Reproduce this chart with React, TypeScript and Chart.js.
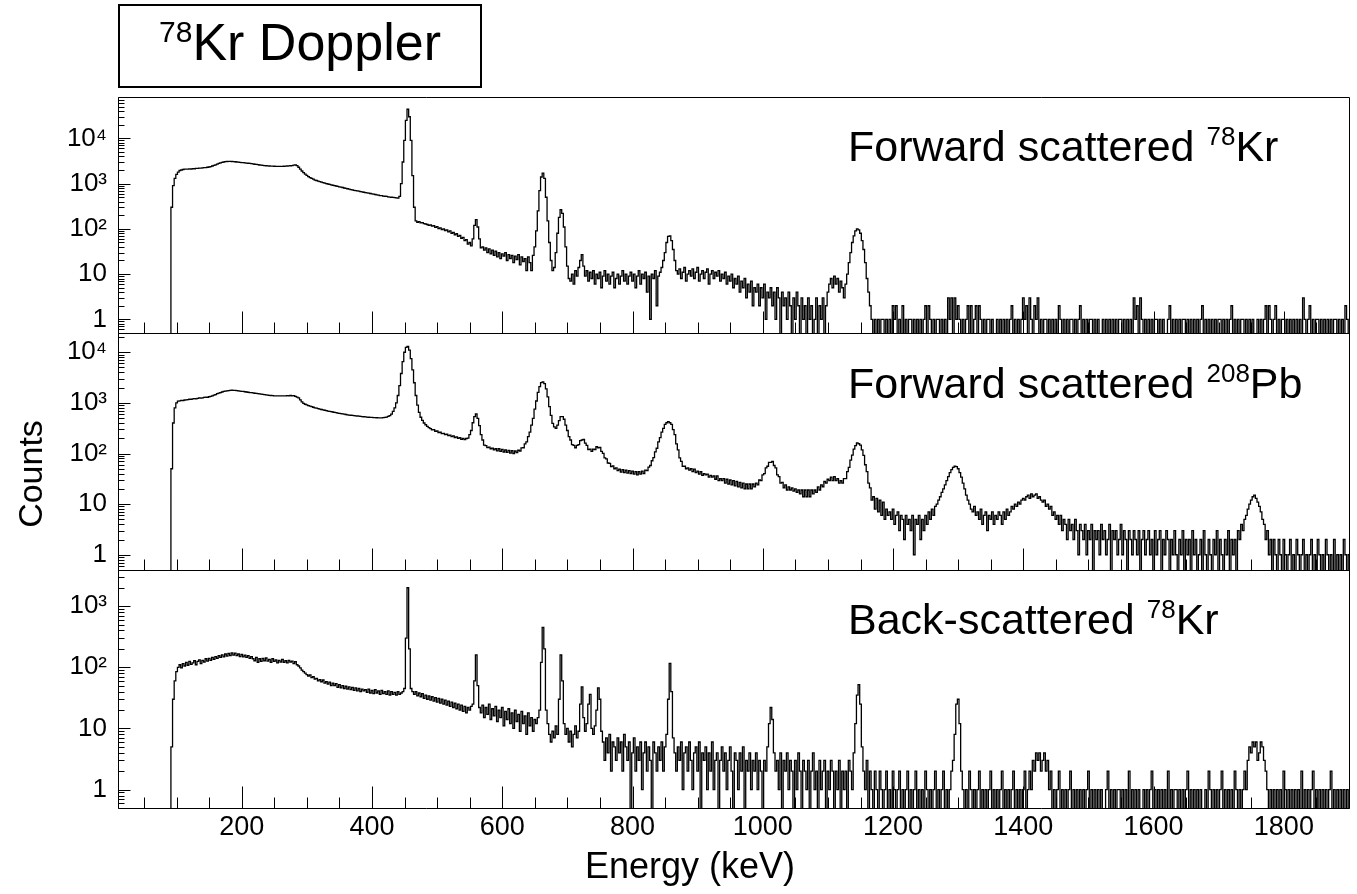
import React, { useEffect, useRef } from 'react';
import { Chart, registerables } from 'chart.js';

Chart.register(...registerables);

const FONT = "'Liberation Sans', Arial, Helvetica, sans-serif";

// Histogram binning (keV): bin centres start at BIN_START, spaced BIN_WIDTH
const BIN_START = 90;
const BIN_WIDTH = 2.5;
const X_MIN = 10;
const X_MAX = 1900;
const X_TICKS = [200, 400, 600, 800, 1000, 1200, 1400, 1600, 1800];
const X_MINOR_STEP = 50;
const Y_MIN = 0.5;
const Y_MAX = [82000, 24000, 3900];
const Y_TICKS = [1, 10, 100, 1000, 10000];
const Y_TICK_LABELS = ['1', '10', '10²', '10³', '10⁴'];
const PANEL_LABELS = [
  { text: 'Forward scattered ', sup: '78', tail: 'Kr' },
  { text: 'Forward scattered ', sup: '208', tail: 'Pb' },
  { text: 'Back-scattered ', sup: '78', tail: 'Kr' },
];

// Counts per bin; one row = 100 keV (90..187.5, 190..287.5, ...), last row 1890..1900
const FWD_KR = [
  0, 300, 900, 1300, 1600, 1800, 1950, 2000, 2050, 2080, 2100, 2080, 2120, 2100, 2150, 2130, 2160, 2180, 2200, 2190, 2220, 2250, 2260, 2300, 2330, 2380, 2450, 2520, 2600, 2700, 2800, 2880, 2950, 3000, 3050, 3080, 3100, 3100, 3080, 3060,
  3040, 3000, 2980, 2950, 2920, 2900, 2880, 2850, 2820, 2800, 2760, 2720, 2680, 2650, 2620, 2580, 2550, 2520, 2500, 2480, 2460, 2450, 2440, 2430, 2420, 2410, 2400, 2400, 2410, 2400, 2420, 2430, 2450, 2460, 2480, 2500, 2550, 2580, 2500, 2300,
  2100, 1900, 1750, 1620, 1520, 1430, 1360, 1300, 1250, 1200, 1170, 1140, 1110, 1080, 1050, 1020, 1000, 980, 960, 940, 920, 900, 885, 870, 850, 835, 820, 800, 785, 770, 755, 740, 725, 710, 700, 690, 680, 665, 655, 645,
  635, 625, 615, 605, 595, 585, 575, 565, 555, 545, 540, 530, 525, 520, 510, 505, 500, 495, 490, 485, 480, 520, 1000, 3000, 9000, 25000, 44000, 30000, 9000, 1500, 300, 150, 140, 145, 135, 138, 130, 128, 125, 120,
  122, 115, 118, 108, 112, 102, 105, 96, 100, 92, 95, 86, 90, 80, 84, 74, 78, 68, 72, 62, 65, 55, 58, 46, 50, 42, 60, 120, 160, 110, 60, 38, 40, 34, 38, 30, 36, 28, 34, 26,
  32, 24, 30, 22, 28, 25, 30, 20, 27, 22, 26, 18, 25, 21, 27, 16, 24, 19, 22, 12, 24, 18, 12, 26, 40, 90, 250, 700, 1400, 1700, 1300, 500, 150, 50, 20, 12, 14, 30, 80, 180,
  265, 220, 110, 40, 15, 8, 7, 10, 6, 12, 9, 14, 20, 27, 15, 9, 12, 7, 11, 8, 12, 6, 10, 8, 11, 5, 9, 12, 7, 10, 6, 9, 11, 5, 8, 10, 6, 9, 12, 7,
  10, 6, 9, 11, 7, 10, 5, 9, 12, 6, 10, 8, 11, 4, 9, 1, 10, 8, 12, 2, 9, 11, 14, 20, 30, 50, 68, 70, 55, 35, 20, 12, 10, 13, 8, 11, 14, 7, 10, 12,
  9, 13, 8, 11, 14, 7, 10, 12, 8, 11, 13, 6, 10, 12, 8, 11, 9, 12, 7, 10, 8, 11, 6, 9, 7, 10, 5, 8, 6, 9, 4, 7, 5, 8, 3, 6, 4, 7, 2, 5,
  4, 6, 2, 5, 3, 6, 1, 4, 3, 5, 2, 4, 1, 5, 3, 0, 4, 2, 3, 1, 4, 2, 0, 3, 1, 4, 2, 0, 3, 1, 2, 0, 3, 1, 2, 0, 1, 3, 0, 2,
  1, 3, 0, 2, 4, 6, 8, 5, 9, 6, 8, 4, 7, 5, 3, 6, 10, 18, 30, 50, 70, 90, 100, 95, 80, 55, 35, 18, 8, 4, 2, 1, 0, 1, 0, 1, 0, 1, 1, 0,
  1, 0, 1, 0, 2, 1, 2, 0, 1, 0, 2, 0, 1, 0, 1, 1, 0, 1, 0, 1, 0, 1, 0, 1, 2, 0, 2, 1, 0, 1, 0, 1, 1, 0, 1, 0, 1, 0, 3, 1,
  3, 0, 3, 1, 2, 1, 0, 1, 0, 1, 2, 0, 2, 0, 1, 2, 0, 2, 1, 0, 1, 0, 1, 1, 0, 1, 0, 0, 1, 0, 1, 0, 1, 0, 1, 0, 1, 2, 0, 1,
  0, 1, 0, 1, 3, 1, 2, 0, 3, 1, 0, 2, 1, 3, 0, 1, 0, 1, 1, 0, 1, 0, 1, 0, 1, 0, 2, 1, 0, 1, 0, 1, 0, 1, 1, 0, 1, 0, 1, 2,
  0, 1, 0, 1, 0, 1, 1, 0, 1, 0, 1, 0, 0, 1, 0, 1, 0, 1, 0, 1, 0, 1, 0, 1, 1, 0, 1, 0, 1, 0, 1, 0, 3, 1, 2, 0, 3, 1, 0, 1,
  0, 1, 0, 1, 0, 1, 1, 0, 1, 0, 1, 0, 0, 1, 2, 0, 1, 0, 1, 0, 1, 0, 1, 1, 0, 1, 0, 1, 0, 1, 0, 1, 0, 1, 2, 0, 1, 0, 1, 0,
  1, 0, 1, 0, 1, 1, 0, 1, 0, 1, 0, 1, 2, 0, 1, 0, 1, 0, 1, 1, 0, 1, 0, 1, 0, 1, 0, 0, 1, 0, 1, 0, 1, 2, 0, 2, 1, 0, 1, 2,
  0, 1, 0, 1, 1, 0, 1, 0, 1, 0, 1, 0, 1, 0, 1, 0, 3, 1, 0, 1, 2, 0, 1, 0, 1, 1, 0, 1, 0, 1, 0, 1, 0, 1, 0, 1, 1, 0, 1, 0,
  1, 0, 2, 1, 0,
];

const FWD_PB = [
  0, 50, 400, 800, 1000, 1080, 1100, 1120, 1110, 1140, 1150, 1160, 1180, 1170, 1200, 1210, 1200, 1230, 1250, 1240, 1260, 1280, 1300, 1290, 1320, 1340, 1380, 1420, 1460, 1520, 1560, 1600, 1640, 1680, 1700, 1720, 1750, 1770, 1780, 1770,
  1760, 1740, 1720, 1700, 1690, 1680, 1660, 1640, 1620, 1600, 1590, 1570, 1550, 1540, 1520, 1500, 1490, 1470, 1450, 1440, 1420, 1410, 1400, 1390, 1380, 1380, 1370, 1380, 1370, 1380, 1370, 1380, 1390, 1380, 1400, 1380, 1390, 1350, 1300, 1250,
  1150, 1050, 980, 940, 910, 880, 860, 840, 820, 800, 785, 770, 755, 740, 725, 715, 700, 690, 680, 670, 660, 650, 640, 630, 620, 612, 605, 598, 590, 582, 575, 570, 565, 560, 555, 550, 545, 540, 536, 532,
  528, 524, 520, 518, 515, 512, 510, 508, 505, 505, 505, 510, 515, 525, 540, 560, 600, 680, 800, 1000, 1400, 2200, 3800, 6500, 10000, 12500, 13000, 11000, 7500, 4500, 2500, 1400, 900, 650, 520, 450, 400, 370, 345, 325,
  310, 292, 295, 275, 278, 260, 263, 248, 250, 236, 240, 226, 230, 216, 222, 207, 213, 199, 205, 191, 198, 188, 198, 202, 235, 285, 405, 535, 605, 495, 355, 236, 185, 146, 143, 131, 134, 124, 128, 118,
  124, 113, 125, 110, 121, 107, 118, 105, 115, 102, 114, 100, 112, 104, 116, 112, 129, 130, 155, 170, 215, 265, 365, 495, 755, 1090, 1610, 2090, 2510, 2590, 2410, 1890, 1310, 845, 565, 395, 335, 315, 365, 445,
  535, 535, 475, 365, 285, 215, 185, 150, 145, 130, 145, 150, 180, 185, 190, 160, 145, 120, 122, 110, 122, 120, 136, 130, 132, 110, 101, 82, 78, 65, 64, 55, 57, 50, 52, 46, 49, 43, 48, 42,
  47, 41, 46, 40, 45, 39, 44, 38, 44, 39, 45, 40, 47, 46, 54, 58, 72, 83, 108, 127, 170, 205, 265, 315, 375, 405, 425, 405, 375, 295, 235, 155, 118, 82, 70, 56, 56, 50, 52, 47,
  50, 44, 49, 42, 45, 39, 44, 37, 40, 38, 39, 34, 37, 34, 36, 31, 36, 29, 32, 29, 32, 26, 31, 25, 30, 24, 29, 23, 28, 22, 27, 21, 26, 20, 25, 20, 25, 20, 25, 22,
  26, 24, 30, 29, 38, 40, 52, 56, 67, 67, 70, 58, 52, 38, 35, 26, 27, 21, 24, 19, 22, 19, 21, 18, 20, 17, 19, 16, 19, 14, 19, 14, 19, 14, 19, 16, 19, 17, 22, 19,
  24, 22, 28, 26, 31, 29, 34, 29, 35, 29, 32, 26, 29, 26, 32, 32, 44, 53, 74, 93, 122, 143, 162, 156, 147, 118, 92, 60, 44, 26, 21, 12, 14, 8, 13, 7, 12, 6, 11, 5,
  8, 6, 7, 5, 8, 4, 6, 7, 3, 6, 5, 2, 6, 4, 5, 3, 6, 1, 5, 4, 6, 2, 5, 3, 6, 4, 7, 5, 8, 6, 9, 10, 12, 14, 17, 20, 24, 29, 35, 42,
  48, 53, 56, 55, 50, 42, 34, 26, 20, 15, 12, 10, 8, 7, 9, 6, 7, 5, 8, 4, 6, 7, 3, 6, 5, 7, 4, 6, 5, 7, 6, 4, 7, 5, 8, 6, 7, 9, 8, 10,
  9, 11, 10, 12, 13, 12, 14, 15, 13, 16, 14, 15, 16, 13, 14, 12, 11, 12, 9, 10, 8, 9, 6, 7, 5, 6, 4, 6, 3, 5, 4, 2, 5, 3, 4, 2, 5, 3, 1, 4,
  3, 2, 4, 1, 3, 2, 4, 0, 3, 2, 3, 1, 4, 2, 3, 1, 2, 4, 0, 3, 2, 3, 1, 2, 4, 1, 3, 2, 0, 3, 2, 1, 3, 2, 1, 3, 0, 2, 3, 1,
  2, 3, 1, 2, 0, 3, 1, 2, 3, 0, 2, 1, 3, 2, 0, 2, 1, 3, 1, 0, 2, 1, 3, 0, 2, 1, 2, 0, 3, 1, 2, 0, 1, 2, 0, 3, 1, 0, 2, 1,
  0, 2, 1, 3, 0, 2, 1, 0, 2, 1, 3, 0, 2, 1, 2, 0, 3, 2, 4, 3, 5, 6, 8, 10, 12, 14, 15, 13, 11, 9, 7, 5, 4, 2, 3, 1, 2, 0, 2, 1,
  0, 2, 1, 0, 2, 1, 0, 1, 2, 0, 1, 0, 2, 1, 0, 1, 2, 0, 1, 0, 1, 2, 0, 1, 0, 2, 1, 0, 1, 0, 2, 1, 0, 1, 0, 2, 0, 1, 0, 1,
  0, 2, 1, 0, 1,
];

const BACK_KR = [
  0, 5, 30, 60, 85, 100, 110, 98, 115, 105, 120, 108, 125, 112, 118, 128, 110, 125, 132, 115, 130, 122, 138, 126, 140, 130, 145, 135, 150, 140, 155, 145, 160, 148, 165, 152, 168, 155, 172, 158,
  170, 155, 165, 150, 162, 148, 158, 145, 155, 140, 150, 138, 128, 145, 120, 138, 125, 140, 128, 142, 126, 135, 120, 138, 125, 132, 118, 130, 122, 135, 120, 128, 118, 130, 122, 126, 115, 124, 110, 105,
  98, 90, 85, 80, 76, 72, 75, 68, 70, 64, 66, 60, 63, 58, 62, 55, 58, 53, 57, 50, 55, 50, 54, 47, 52, 46, 50, 45, 49, 44, 48, 43, 47, 42, 46, 41, 45, 40, 44, 41,
  43, 39, 44, 38, 42, 37, 43, 38, 41, 36, 42, 37, 40, 36, 41, 35, 40, 36, 39, 35, 40, 36, 38, 40, 45, 300, 2000, 200, 45, 40, 36, 40, 34, 38, 33, 37, 31, 35, 30, 34,
  29, 33, 28, 32, 27, 31, 26, 30, 25, 29, 24, 28, 23, 27, 22, 26, 21, 25, 20, 24, 19, 23, 18, 22, 20, 23, 25, 60, 160, 50, 22, 18, 24, 15, 22, 17, 25, 14, 21, 16,
  23, 13, 20, 15, 22, 11, 19, 14, 21, 12, 18, 10, 20, 13, 17, 9, 19, 12, 16, 8, 18, 11, 15, 9, 14, 12, 15, 20, 120, 450, 200, 20, 12, 8, 6, 9, 7, 11, 8, 30,
  160, 60, 12, 8, 10, 6, 9, 5, 8, 11, 7, 9, 25, 48, 15, 9, 12, 25, 36, 10, 8, 11, 20, 46, 30, 9, 6, 3, 7, 4, 8, 2, 6, 5, 3, 7, 4, 6, 2, 8,
  5, 3, 6, 0, 4, 7, 2, 5, 3, 6, 1, 4, 6, 2, 5, 3, 0, 6, 4, 2, 5, 3, 6, 2, 5, 8, 30, 116, 40, 7, 4, 2, 5, 3, 6, 1, 4, 5, 2, 6,
  3, 1, 4, 5, 2, 6, 0, 4, 3, 5, 1, 4, 2, 6, 1, 3, 4, 0, 3, 5, 2, 4, 1, 3, 5, 2, 0, 4, 3, 1, 4, 2, 5, 0, 3, 2, 4, 1, 3, 2,
  4, 1, 3, 2, 0, 3, 2, 5, 12, 22, 14, 4, 2, 3, 1, 4, 0, 3, 2, 4, 1, 3, 2, 0, 3, 1, 4, 2, 0, 3, 2, 1, 3, 0, 2, 4, 1, 2, 0, 3,
  1, 2, 3, 0, 2, 1, 3, 2, 0, 2, 1, 3, 0, 2, 1, 2, 0, 3, 2, 1, 4, 12, 35, 52, 25, 5, 2, 1, 3, 0, 2, 1, 0, 2, 1, 0, 2, 1, 0, 1,
  2, 0, 1, 0, 2, 1, 0, 1, 2, 0, 1, 0, 1, 2, 0, 1, 0, 1, 2, 0, 1, 0, 1, 0, 2, 1, 0, 1, 0, 1, 2, 0, 1, 0, 1, 2, 0, 1, 0, 1,
  2, 3, 8, 25, 30, 12, 2, 1, 0, 1, 0, 2, 1, 0, 1, 0, 1, 2, 0, 1, 0, 1, 0, 1, 2, 0, 1, 0, 1, 0, 1, 2, 0, 1, 0, 1, 0, 1, 2, 0,
  1, 0, 1, 0, 1, 2, 0, 1, 2, 1, 3, 2, 4, 3, 4, 2, 3, 4, 2, 3, 1, 2, 0, 1, 0, 1, 2, 0, 1, 0, 1, 0, 1, 2, 0, 1, 0, 1, 0, 1,
  0, 1, 0, 1, 2, 0, 1, 0, 1, 0, 1, 0, 1, 0, 0, 1, 2, 0, 1, 0, 1, 0, 1, 1, 0, 1, 0, 1, 0, 2, 0, 1, 0, 1, 0, 1, 0, 0, 1, 0,
  1, 0, 1, 2, 0, 1, 0, 1, 0, 1, 0, 1, 0, 2, 0, 1, 0, 1, 1, 0, 1, 0, 1, 0, 1, 2, 0, 1, 0, 1, 0, 1, 0, 1, 0, 0, 1, 0, 2, 1,
  0, 1, 0, 1, 0, 1, 2, 0, 1, 0, 1, 0, 1, 0, 2, 1, 0, 1, 0, 1, 2, 1, 3, 5, 4, 6, 5, 6, 3, 4, 6, 5, 3, 2, 1, 0, 1, 0, 1, 0,
  1, 0, 1, 0, 2, 1, 0, 1, 0, 1, 0, 1, 0, 1, 0, 2, 0, 1, 0, 1, 0, 1, 2, 0, 1, 0, 1, 0, 1, 0, 1, 0, 1, 2, 0, 1, 0, 1, 0, 1,
  0, 1, 0, 1, 0,
];

const SERIES = [FWD_KR, FWD_PB, BACK_KR];

// layout (px)
const W = 1357;
const H = 894;
const FRAME_LEFT = 118;
const FRAME_RIGHT = 1349;
const PANEL_TOP = [97, 333, 570];
const PANEL_BOTTOM = [333, 570, 808];
const LABEL_TOP = [125, 362, 598];

const rootFramePlugin = {
  id: 'rootFrame',
  afterDatasetsDraw(chart: any) {
    const { ctx, chartArea: a, scales } = chart;
    const xs = scales.x;
    const ys = scales.y;
    const L = Math.round(a.left) + 0.5;
    const R = Math.round(a.right) + 0.5;
    const T = Math.round(a.top) + 0.5;
    const B = Math.round(a.bottom) + 0.5;
    ctx.save();
    ctx.strokeStyle = '#000';
    ctx.lineWidth = 1;
    ctx.beginPath();
    ctx.rect(L, T, R - L, B - T);
    ctx.stroke();
    ctx.beginPath();
    for (let e = X_MINOR_STEP; e <= X_MAX; e += X_MINOR_STEP) {
      if (e < X_MIN) continue;
      const px = Math.round(xs.getPixelForValue(e)) + 0.5;
      const len = X_TICKS.includes(e) ? 22 : 11;
      ctx.moveTo(px, B);
      ctx.lineTo(px, B - len);
    }
    const lo = Math.floor(Math.log10(ys.min));
    const hi = Math.ceil(Math.log10(ys.max));
    for (let d = lo; d <= hi; d++) {
      for (let k = 1; k <= 9; k++) {
        const v = k * Math.pow(10, d);
        if (v < ys.min || v > ys.max) continue;
        const py = Math.round(ys.getPixelForValue(v)) + 0.5;
        ctx.moveTo(L, py);
        ctx.lineTo(L + (k === 1 ? 12 : 6), py);
      }
    }
    ctx.stroke();
    ctx.restore();
  },
};

function buildChart(canvas: HTMLCanvasElement, i: number) {
  const values = SERIES[i];
  const data = values.map((v, j) => ({ x: BIN_START + j * BIN_WIDTH, y: v > 0 ? v : Y_MIN * 0.6 }));
  const isBottom = i === 2;
  return new Chart(canvas, {
    type: 'line',
    data: {
      datasets: [
        {
          data,
          borderColor: '#000',
          borderWidth: 1.3,
          pointRadius: 0,
          fill: false,
          stepped: 'middle',
          tension: 0,
        },
      ],
    },
    plugins: [rootFramePlugin],
    options: {
      animation: false,
      responsive: false,
      maintainAspectRatio: false,
      devicePixelRatio: 1,
      events: [],
      layout: {
        padding: {
          left: 0,
          right: W - FRAME_RIGHT,
          top: PANEL_TOP[i],
          bottom: isBottom ? 0 : H - PANEL_BOTTOM[i],
        },
      },
      plugins: { legend: { display: false }, tooltip: { enabled: false }, title: { display: false } },
      scales: {
        x: {
          type: 'linear',
          min: X_MIN,
          max: X_MAX,
          display: isBottom,
          bounds: 'data',
          grid: { display: false, drawTicks: false },
          border: { display: false },
          afterBuildTicks: (s: any) => {
            s.ticks = X_TICKS.map((v) => ({ value: v }));
          },
          afterFit: (s: any) => {
            s.height = isBottom ? H - PANEL_BOTTOM[2] : 0;
          },
          ticks: {
            autoSkip: false,
            maxRotation: 0,
            padding: 3,
            color: '#000',
            font: { family: FONT, size: 27 },
            callback: (v: any) => String(v),
          },
        },
        y: {
          type: 'logarithmic',
          min: Y_MIN,
          max: Y_MAX[i],
          bounds: 'data',
          grid: { display: false, drawTicks: false },
          border: { display: false },
          afterBuildTicks: (s: any) => {
            s.ticks = Y_TICKS.filter((v) => v <= Y_MAX[i]).map((v) => ({ value: v }));
          },
          afterFit: (s: any) => {
            s.width = FRAME_LEFT;
          },
          ticks: {
            autoSkip: false,
            padding: 11,
            color: '#000',
            font: { family: FONT, size: 26 },
            callback: (v: any) => {
              const idx = Y_TICKS.indexOf(Number(v));
              return idx >= 0 ? Y_TICK_LABELS[idx] : '';
            },
          },
        },
      },
    } as any,
  });
}

export default function App() {
  const c0 = useRef<HTMLCanvasElement>(null);
  const c1 = useRef<HTMLCanvasElement>(null);
  const c2 = useRef<HTMLCanvasElement>(null);

  useEffect(() => {
    const refs = [c0, c1, c2];
    const charts = refs.map((r, i) => buildChart(r.current as HTMLCanvasElement, i));
    return () => charts.forEach((c) => c.destroy());
  }, []);

  const canvasStyle: React.CSSProperties = { position: 'absolute', left: 0, top: 0, width: W, height: H };

  return (
    <div style={{ position: 'absolute', left: 0, top: 0, width: W, height: H, background: '#fff', fontFamily: FONT, color: '#000', overflow: 'hidden' }}>
      <canvas ref={c0} width={W} height={H} style={canvasStyle} />
      <canvas ref={c1} width={W} height={H} style={canvasStyle} />
      <canvas ref={c2} width={W} height={H} style={canvasStyle} />
      <div
        style={{
          position: 'absolute', left: 118, top: 4, width: 364, height: 84, boxSizing: 'border-box',
          border: '2px solid #000', display: 'flex', alignItems: 'center', justifyContent: 'center',
          fontSize: 52, lineHeight: '52px', whiteSpace: 'nowrap',
        }}
      >
        <span>
          <span style={{ fontSize: 30, position: 'relative', top: -18 }}>78</span>Kr Doppler
        </span>
      </div>
      {PANEL_LABELS.map((p, i) => (
        <div
          key={i}
          style={{ position: 'absolute', left: 848, top: LABEL_TOP[i], fontSize: 43, lineHeight: '43px', whiteSpace: 'nowrap' }}
        >
          {p.text}
          <span style={{ fontSize: 26, position: 'relative', top: -16 }}>{p.sup}</span>
          {p.tail}
        </div>
      ))}
      <div
        style={{
          position: 'absolute', left: -70, top: 457, width: 200, height: 34, lineHeight: '34px', textAlign: 'center',
          fontSize: 34, transform: 'rotate(-90deg)', whiteSpace: 'nowrap',
        }}
      >
        Counts
      </div>
      <div style={{ position: 'absolute', left: 585, top: 848, fontSize: 36, lineHeight: '36px', whiteSpace: 'nowrap' }}>
        Energy (keV)
      </div>
    </div>
  );
}
